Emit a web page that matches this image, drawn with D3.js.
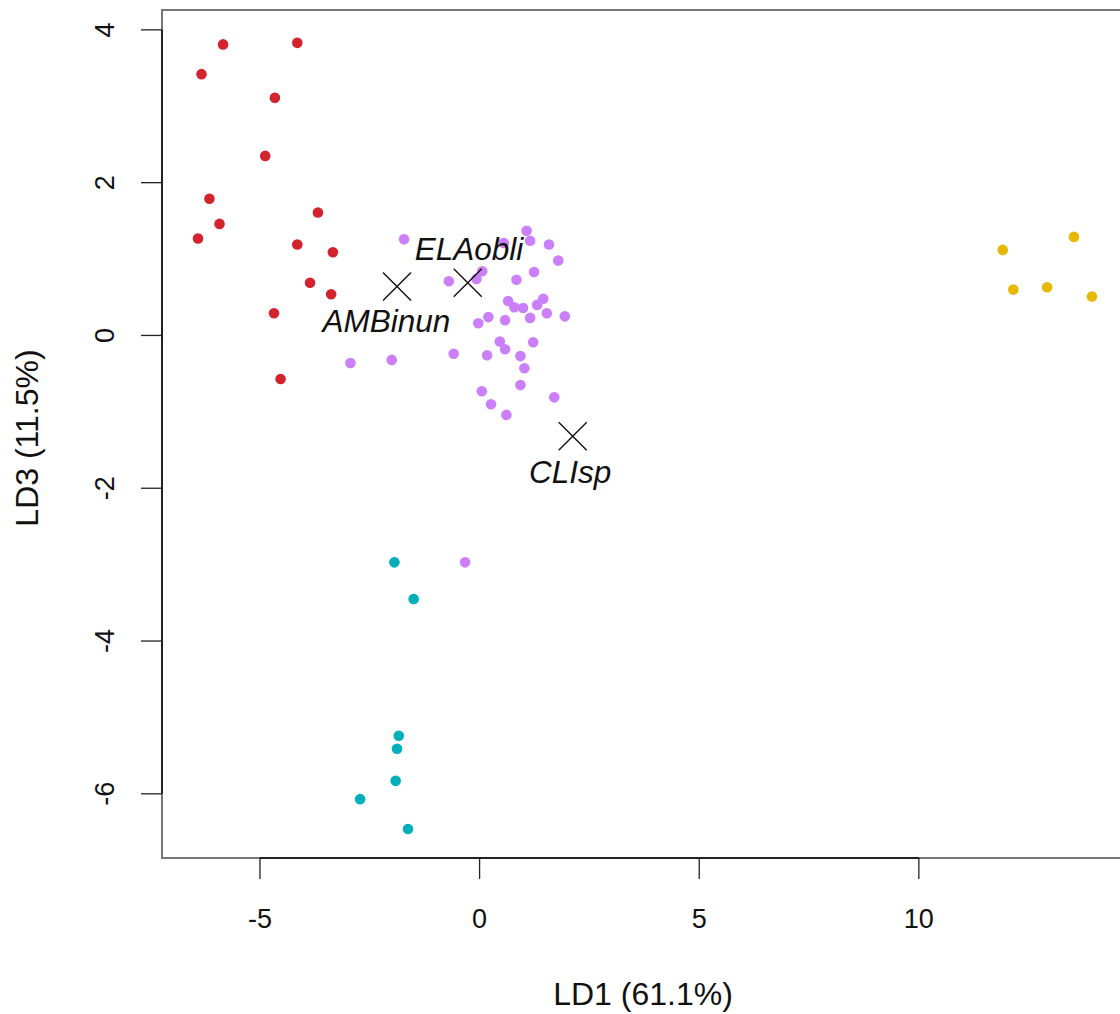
<!DOCTYPE html>
<html>
<head>
<meta charset="utf-8">
<script src="https://cdn.jsdelivr.net/npm/d3@7"></script>
<style>
  html, body { margin: 0; padding: 0; background: #fff; overflow: hidden; }
  text { font-family: "Liberation Sans", Arial, Helvetica, sans-serif; }
</style>
</head>
<body>
<svg id="chart" width="1120" height="1014"></svg>
<script>
// ---- Data (LD1, LD3 scores) ----
const groups = ["red", "purple", "teal", "yellow"];
const groupColors = ["#D2232E", "#CC7FFA", "#00AFBB", "#E7B800"];

const redLD1 = [-5.84, -4.15, -6.33, -4.66, -4.88, -6.15, -3.68, -5.92, -6.41, -4.15, -3.34, -3.86, -3.38, -4.68, -4.53];
const redLD3 = [3.81, 3.83, 3.42, 3.11, 2.35, 1.79, 1.61, 1.46, 1.27, 1.19, 1.09, 0.69, 0.54, 0.29, -0.57];

const purpleLD1 = [-1.72, 1.07, 1.15, 0.55, 1.58, 1.79, 0.06, -0.07, -0.70, 0.84, 1.24, 0.65, 0.79, 0.99, 1.45, 1.31, 1.53, 1.94, 0.20, 0.58, 1.15, -0.03, -2.94, -2.00, -0.59, 0.17, 0.46, 0.58, 1.22, 0.93, 1.02, 0.93, 0.05, 0.26, 0.61, 1.70, -0.33];
const purpleLD3 = [1.26, 1.37, 1.24, 1.21, 1.19, 0.98, 0.84, 0.74, 0.71, 0.73, 0.83, 0.45, 0.37, 0.36, 0.48, 0.40, 0.29, 0.25, 0.24, 0.20, 0.23, 0.16, -0.36, -0.32, -0.24, -0.26, -0.08, -0.18, -0.09, -0.27, -0.43, -0.65, -0.73, -0.90, -1.04, -0.81, -2.97];

const tealLD1 = [-1.94, -1.50, -1.84, -1.88, -1.91, -2.72, -1.63];
const tealLD3 = [-2.97, -3.45, -5.24, -5.41, -5.83, -6.07, -6.46];

const yellowLD1 = [11.91, 13.53, 12.15, 12.92, 13.94];
const yellowLD3 = [1.12, 1.29, 0.60, 0.63, 0.51];

// Reference markers (crosses) and their labels
const markerNames = ["AMBinun", "ELAobli", "CLIsp"];
const markerLD1 = [-1.88, -0.27, 2.12];
const markerLD3 = [0.64, 0.69, -1.32];
const labelLD1 = [-2.12, -0.24, 2.06];
const labelLD3 = [0.05, 0.99, -1.93];

const xTicks = [-5, 0, 5, 10];
const yTicks = [4, 2, 0, -2, -4, -6];
const xTitle = "LD1 (61.1%)";
const yTitle = "LD3 (11.5%)";

// ---- Drawing ----
const svg = d3.select("#chart");
const box = { left: 162, right: 1124, top: 10, bottom: 858 };

const x = d3.scaleLinear().domain([-7.23, 14.67]).range([box.left, box.right]);
const y = d3.scaleLinear().domain([-6.84, 4.26]).range([box.bottom, box.top]);

const seriesX = [redLD1, purpleLD1, tealLD1, yellowLD1];
const seriesY = [redLD3, purpleLD3, tealLD3, yellowLD3];

// Plot box
svg.append("rect")
  .attr("x", box.left).attr("y", box.top)
  .attr("width", box.right - box.left).attr("height", box.bottom - box.top)
  .attr("fill", "none").attr("stroke", "#777").attr("stroke-width", 2);

// X axis
const gx = svg.append("g").attr("transform", `translate(0,${box.bottom})`);
gx.append("line")
  .attr("x1", x(xTicks[0])).attr("x2", x(xTicks[xTicks.length - 1]))
  .attr("y1", 0).attr("y2", 0)
  .attr("stroke", "#222").attr("stroke-width", 2);
const xt = gx.selectAll("g.tick").data(xTicks).join("g")
  .attr("transform", d => `translate(${x(d)},0)`);
xt.append("line").attr("y1", 0).attr("y2", 21).attr("stroke", "#222").attr("stroke-width", 1.3);
xt.append("text").attr("y", 70).attr("text-anchor", "middle")
  .attr("font-size", 27).attr("fill", "#111").text(d => d);

// Y axis
const gy = svg.append("g").attr("transform", `translate(${box.left},0)`);
gy.append("line")
  .attr("x1", 0).attr("x2", 0)
  .attr("y1", y(yTicks[0])).attr("y2", y(yTicks[yTicks.length - 1]))
  .attr("stroke", "#222").attr("stroke-width", 2);
const yt = gy.selectAll("g.tick").data(yTicks).join("g")
  .attr("transform", d => `translate(0,${y(d)})`);
yt.append("line").attr("x1", 0).attr("x2", -21).attr("stroke", "#222").attr("stroke-width", 1.3);
yt.append("text").attr("transform", "translate(-48,0) rotate(-90)")
  .attr("text-anchor", "middle").attr("font-size", 27).attr("fill", "#111").text(d => d);

// Axis titles
svg.append("text").attr("x", 643).attr("y", 1005).attr("text-anchor", "middle")
  .attr("font-size", 32).attr("fill", "#111").text(xTitle);
svg.append("text").attr("transform", `translate(38,${(box.top + box.bottom) / 2 + 4}) rotate(-90)`)
  .attr("text-anchor", "middle").attr("font-size", 32).attr("fill", "#111").text(yTitle);

// Points
const plot = svg.append("g");
groups.forEach((g, i) => {
  const pts = seriesX[i].map((v, j) => [v, seriesY[i][j]]);
  plot.append("g").selectAll("circle").data(pts).join("circle")
    .attr("cx", d => x(d[0])).attr("cy", d => y(d[1]))
    .attr("r", 5.3).attr("fill", groupColors[i]);
});

// Cross markers
const cs = 14;
const markers = svg.append("g");
markerNames.forEach((n, i) => {
  const cx = x(markerLD1[i]), cy = y(markerLD3[i]);
  markers.append("path")
    .attr("d", `M${cx - cs},${cy - cs}L${cx + cs},${cy + cs}M${cx - cs},${cy + cs}L${cx + cs},${cy - cs}`)
    .attr("stroke", "#111").attr("stroke-width", 1.4).attr("fill", "none");
  markers.append("text")
    .attr("x", x(labelLD1[i])).attr("y", y(labelLD3[i]))
    .attr("text-anchor", "middle").attr("font-style", "italic")
    .attr("font-size", 31.5).attr("fill", "#111").text(n);
});
</script>
</body>
</html>
